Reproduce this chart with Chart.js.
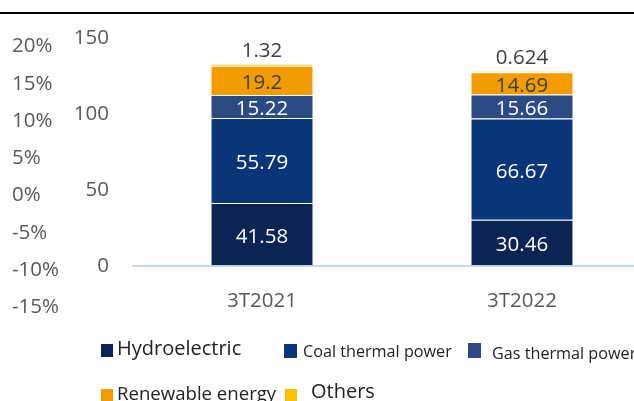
<!DOCTYPE html>
<html>
<head>
<meta charset="utf-8">
<script src="https://cdn.jsdelivr.net/npm/chart.js@4.4.1/dist/chart.umd.min.js"></script>
<style>
  html, body { margin: 0; padding: 0; background: #fff; overflow: hidden; }
  #wrap { position: relative; width: 634px; height: 401px; overflow: hidden; }
  #genChart { position: absolute; left: 0; top: 0; }
  #topRule { position: absolute; left: 0; top: 12px; width: 634px; height: 2px; background: #000; }
  .lg-box { position: absolute; }
  .lg-text { position: absolute; font-family: 'Open Sans', sans-serif; color: #222; line-height: 1; white-space: nowrap; }
</style>
</head>
<body>
<div id="wrap">
  <canvas id="genChart" width="680" height="401" style="width:680px;height:401px"></canvas>
  <div id="topRule"></div>
  <div id="legend"></div>
</div>
<script>
// Generation by source, stacked per period
const periods = ['3T2021', '3T2022'];
const seriesNames = ['Hydroelectric', 'Coal thermal power', 'Gas thermal power', 'Renewable energy', 'Others'];
const hydroelectric = [41.58, 30.46];
const coalThermal = [55.79, 66.67];
const gasThermal = [15.22, 15.66];
const renewable = [19.2, 14.69];
const others = [1.32, 0.624];
const valueTicks = [0, 50, 100, 150];
const percentTicks = [-15, -10, -5, 0, 5, 10, 15, 20];

const seriesColors = ['#0b2454', '#0a3679', '#2b4b82', '#f39c00', '#ffc000'];
const labelColors = ['#ffffff', '#ffffff', '#ffffff', '#404040', '#404040'];
const seriesValues = [hydroelectric, coalThermal, gasThermal, renewable, others];

const tickFont = { family: 'Open Sans', size: 20.5 };
const axisGrey = '#595959';

// value labels: centred in each segment, the last series sits above the stack
const segmentLabels = {
    id: 'segmentLabels',
    afterDatasetsDraw(chart) {
        const ctx = chart.ctx;
        const last = chart.data.datasets.length - 1;
        ctx.save();
        ctx.font = '20.5px "Open Sans"';
        ctx.textAlign = 'center';
        ctx.textBaseline = 'middle';
        chart.data.datasets.forEach((ds, i) => {
            chart.getDatasetMeta(i).data.forEach((bar, j) => {
                const y = i === last ? bar.y - 13 : (bar.y + bar.base) / 2 + 3;
                ctx.fillStyle = labelColors[i];
                ctx.fillText(String(ds.data[j]), bar.x, y);
            });
        });
        ctx.restore();
    }
};

const datasets = seriesNames.map((name, i) => ({
    label: name,
    data: seriesValues[i],
    backgroundColor: seriesColors[i],
    borderColor: 'rgba(255,255,255,0.3)',
    borderWidth: 1,
    categoryPercentage: 0.4,
    barPercentage: 0.99
}));

new Chart(document.getElementById('genChart'), {
    type: 'bar',
    data: { labels: periods, datasets: datasets },
    plugins: [segmentLabels],
    options: {
        responsive: false,
        animation: false,
        layout: { padding: { left: 12, top: 38, right: 28, bottom: 93 } },
        plugins: {
            legend: { display: false },
            tooltip: { enabled: false }
        },
        scales: {
            x: {
                stacked: true,
                position: { y: 0 },
                grid: { display: false, drawTicks: false },
                border: { display: false },
                ticks: { color: axisGrey, font: tickFont, padding: 23 }
            },
            y: {
                stacked: true,
                position: 'left',
                weight: 0,
                min: -27.5,
                max: 150,
                afterBuildTicks: s => { s.ticks = valueTicks.map(v => ({ value: v })); },
                afterFit: s => { s.width = 70; },
                grid: {
                    drawTicks: false,
                    lineWidth: 2,
                    color: c => (c.tick && c.tick.value === 0 ? '#c5d9f1' : 'rgba(0,0,0,0)')
                },
                border: { display: false },
                ticks: { color: axisGrey, font: tickFont, padding: 23 }
            },
            yPct: {
                position: 'left',
                weight: 1,
                min: -15.07,
                max: 21.14,
                afterBuildTicks: s => { s.ticks = percentTicks.map(v => ({ value: v })); },
                afterFit: s => { s.width = 50; },
                grid: { display: false, drawTicks: false },
                border: { display: false },
                ticks: {
                    color: axisGrey,
                    font: tickFont,
                    crossAlign: 'far',
                    padding: 0,
                    callback: v => v + '%'
                }
            }
        }
    }
});

// legend, laid out as in the original (two rows, mixed text sizes)
const legendLayout = [
    { box: [101, 344, 12, 13], text: [117, 338, 20] },
    { box: [284, 344, 13, 14], text: [303, 343, 16.2] },
    { box: [468, 343, 13, 15], text: [492, 345, 16.2] },
    { box: [101, 389, 12, 13], text: [117, 383.5, 18.6] },
    { box: [285, 389, 12, 13], text: [311, 380.5, 20] }
];
const legendEl = document.getElementById('legend');
seriesNames.forEach((name, i) => {
    const L = legendLayout[i];
    const box = document.createElement('div');
    box.className = 'lg-box';
    box.style.cssText = `left:${L.box[0]}px;top:${L.box[1]}px;width:${L.box[2]}px;height:${L.box[3]}px;background:${seriesColors[i]}`;
    const txt = document.createElement('div');
    txt.className = 'lg-text';
    txt.style.cssText = `left:${L.text[0]}px;top:${L.text[1]}px;font-size:${L.text[2]}px`;
    txt.textContent = name;
    legendEl.appendChild(box);
    legendEl.appendChild(txt);
});
</script>
</body>
</html>
